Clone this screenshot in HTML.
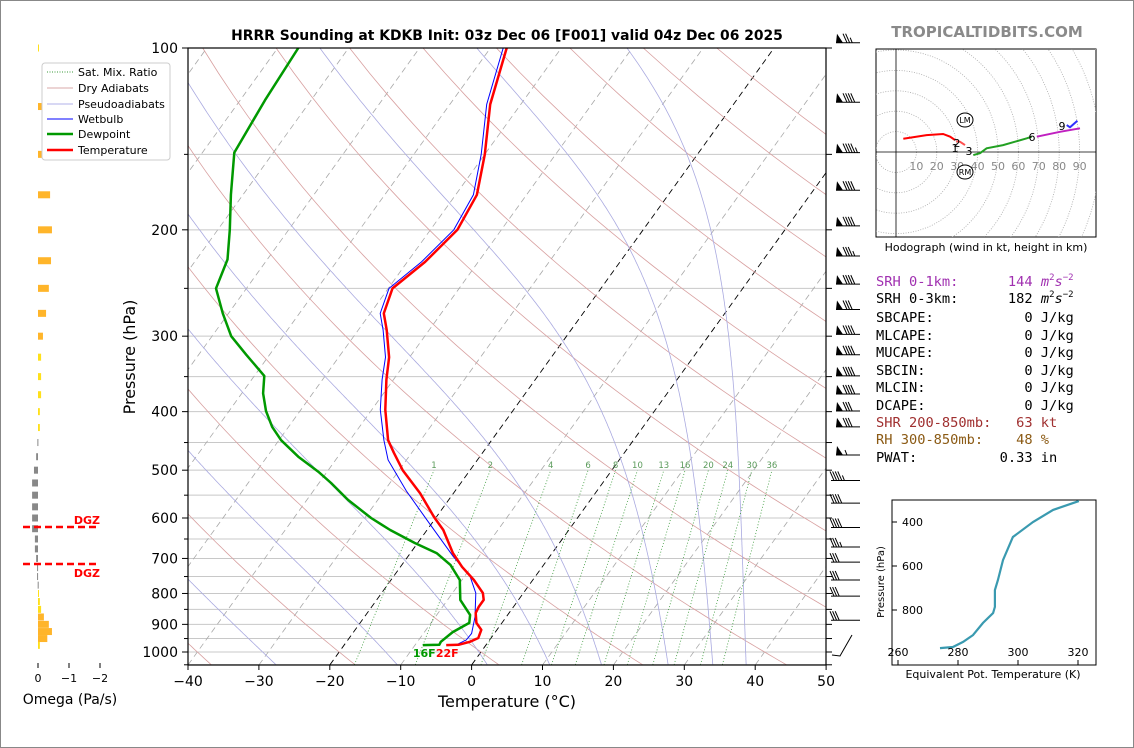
<!DOCTYPE html>
<html><head><meta charset="utf-8">
<style>
html,body{margin:0;padding:0;background:#fff;}
svg{display:block;font-family:"DejaVu Sans","Liberation Sans",sans-serif;}
.mono{font-family:"DejaVu Sans Mono","Liberation Mono",monospace;font-size:13.7px;white-space:pre;}
</style></head>
<body>
<svg id="fig" width="1134" height="748" viewBox="0 0 1134 748" xmlns="http://www.w3.org/2000/svg">
<rect x="0.5" y="0.5" width="1133" height="747" fill="#fff" stroke="#888"/>
<defs>
<clipPath id="mainclip"><rect x="188" y="48" width="638" height="617"/></clipPath>
<clipPath id="hodoclip"><rect x="876" y="49" width="220" height="188"/></clipPath>
</defs>
<text x="507" y="40" text-anchor="middle" font-size="13.9" font-weight="bold">HRRR Sounding at KDKB Init: 03z Dec 06 [F001] valid 04z Dec 06 2025</text>
<text x="987" y="37" text-anchor="middle" font-size="15" font-weight="bold" fill="#8a8a8a">TROPICALTIDBITS.COM</text>

<g id="bg" clip-path="url(#mainclip)"></g>
<g id="profiles" clip-path="url(#mainclip)"></g>
<g id="axes"></g>
<g id="barbs"></g>
<g id="omega"></g>
<g id="hodo"></g>
<g id="inset"></g>

<g>
<rect x="42" y="63" width="128" height="97" rx="3" fill="#fff" stroke="#ccc"/>
<line x1="47" y1="72" x2="73" y2="72" stroke="#3a9a3a" stroke-dasharray="1,1.5"/>
<text x="78" y="76" font-size="11">Sat. Mix. Ratio</text>
<line x1="47" y1="88" x2="73" y2="88" stroke="#d8a8a8"/>
<text x="78" y="92" font-size="11">Dry Adiabats</text>
<line x1="47" y1="104" x2="73" y2="104" stroke="#b0b0e8"/>
<text x="78" y="108" font-size="11">Pseudoadiabats</text>
<line x1="47" y1="119" x2="73" y2="119" stroke="#0000ff"/>
<text x="78" y="123" font-size="11">Wetbulb</text>
<line x1="47" y1="134" x2="73" y2="134" stroke="#009900" stroke-width="2.5"/>
<text x="78" y="138" font-size="11">Dewpoint</text>
<line x1="47" y1="150" x2="73" y2="150" stroke="#ff0000" stroke-width="2.5"/>
<text x="78" y="154" font-size="11">Temperature</text>
</g>

<g class="mono">
<text class="mono" x="876" y="286" fill="#a030b0">SRH 0-1km:      144 <tspan font-style="italic">m</tspan><tspan font-size="9" dy="-6">2</tspan><tspan font-style="italic" dy="6">s</tspan><tspan font-size="9" dy="-6">−2</tspan></text>
<text class="mono" x="876" y="303" fill="#000">SRH 0-3km:      182 <tspan font-style="italic">m</tspan><tspan font-size="9" dy="-6">2</tspan><tspan font-style="italic" dy="6">s</tspan><tspan font-size="9" dy="-6">−2</tspan></text>
<text class="mono" x="876" y="322">SBCAPE:           0 J/kg</text>
<text class="mono" x="876" y="340">MLCAPE:           0 J/kg</text>
<text class="mono" x="876" y="357">MUCAPE:           0 J/kg</text>
<text class="mono" x="876" y="375">SBCIN:            0 J/kg</text>
<text class="mono" x="876" y="392">MLCIN:            0 J/kg</text>
<text class="mono" x="876" y="410">DCAPE:            0 J/kg</text>
<text class="mono" x="876" y="427" fill="#a03030">SHR 200-850mb:   63 kt</text>
<text class="mono" x="876" y="444" fill="#8b5a14">RH 300-850mb:    48 %</text>
<text class="mono" x="876" y="462">PWAT:          0.33 in</text>
</g>
</svg>
<script>
// ---------- DATA ----------
const tempP  = [100,124,150,175,200,226,250,275,293,325,354,397,446,468,500,546,598,628,686,723,760,799,820,842,862,895,919,948,962,973,974];
const tempC  = [-57.7,-54.3,-50.0,-47.0,-46.2,-47.5,-49.4,-48.1,-46.0,-42.9,-41.0,-38.1,-34.6,-32.5,-29.5,-24.7,-20.3,-17.7,-14.0,-11.3,-8.3,-5.7,-4.9,-4.9,-4.7,-3.6,-2.2,-1.8,-2.6,-3.9,-5.6];
const dewP   = [100,122,149,175,200,224,250,275,300,322,349,373,399,424,446,475,504,525,560,600,628,660,686,718,760,820,868,895,927,962,973,974];
const dewC   = [-87.1,-86.5,-85.5,-81.7,-78.3,-75.6,-74.3,-70.8,-67.3,-63.3,-58.6,-57.0,-54.8,-52.3,-49.7,-45.6,-41.1,-38.3,-34.2,-29.1,-25.2,-20.4,-16.3,-13.1,-10.3,-8.2,-5.3,-4.6,-6.0,-6.7,-6.6,-8.9];
const wbP    = [100,124,150,175,200,226,250,275,293,325,354,397,446,481,541,613,695,750,799,875,932,955,973];
const wbC    = [-58.2,-54.8,-50.5,-47.5,-46.7,-48.0,-49.9,-48.6,-46.5,-43.4,-41.6,-38.8,-35.2,-32.6,-26.9,-20.3,-13.6,-9.2,-6.7,-4.4,-3.2,-3.3,-4.2];
const mixRatios = [1,2,4,6,8,10,13,16,20,24,30,36];
const moistStartC = [-27.6,-10.5,2.2,11,18.3,27.7,34,38.7];
const dryThetaC = [-40,-20,0,20,40,60,80,100,120,140,160,180,200];
const barbP   = [98,123,149,172,197,221,246,271,298,322,349,374,399,424,472,520,567,622,670,710,760,808,886];
const barbSpd = [75,90,95,90,90,85,90,80,90,90,90,90,80,80,55,45,40,40,35,30,30,30,30];
const omegaP  = [100,125,150,175,200,225,250,275,300,325,350,375,400,425,450,475,500,525,550,575,600,625,650,675,700,725,750,775,800,825,850,875,900,925,950,975,1000];
const omegaV  = [-0.03,-0.16,-0.29,-0.39,-0.45,-0.42,-0.35,-0.26,-0.16,-0.1,-0.1,-0.1,-0.06,-0.06,0.02,0.06,0.13,0.19,0.19,0.19,0.19,0.19,0.1,0.1,0.06,0.03,0.03,0.01,-0.03,-0.06,-0.1,-0.19,-0.35,-0.45,-0.3,-0.06,0];
const hodoU = [3.6,15.0,23.1,26.5,28.9];
const hodoV = [6.5,8.3,8.8,7.5,5.9];
const hodo2U = [29.5,31.4,33.8];
const hodo2V = [5.3,5.0,3.4];
const hodoGU = [37.9,41.2,44.4,52.5,64.1,66.5];
const hodoGV = [-1.5,-0.6,1.8,3.4,6.7,7.5];
const hodoMU = [69.0,80.4,90.2];
const hodoMV = [7.5,9.9,11.6];
const hodoBU = [83.7,85.3,88.9];
const hodoBV = [13.2,12.1,15.3];
const thetaEP = [305,345,400,468,573,664,709,786,814,859,914,945,968,973];
const thetaEK = [320.3,311.7,305,298.3,295,293.3,292.3,292.3,291.7,288.3,285,281.7,278.3,274];
const xTicks = [-40,-30,-20,-10,0,10,20,30,40,50];
const pLabels = [100,200,300,400,500,600,700,800,900,1000];

// ---------- HELPERS ----------
const NS="http://www.w3.org/2000/svg";
function mk(parent,tag,attrs,text){const e=document.createElementNS(NS,tag);for(const k in attrs)e.setAttribute(k,attrs[k]);if(text!==undefined)e.textContent=text;parent.appendChild(e);return e;}
const yP = p => 48 + 604*Math.log10(p/100);
const xT = (t,p) => 188 + (t+40)*7.09 + (665 - yP(p))*0.72;
const es = t => 6.112*Math.exp(17.67*t/(t+243.5));
function pathFrom(ps,ts){return ps.map((p,i)=>(i?'L':'M')+xT(ts[i],p).toFixed(1)+','+yP(p).toFixed(1)).join(' ');}

const bg=document.getElementById('bg');
for(let p=100;p<=1050;p+=50){
  const l=mk(bg,'line',{x1:188,x2:826,y1:yP(p),y2:yP(p),stroke:'#c8c8c8','stroke-width':1});
  
  
}
for(let t=-150;t<=50;t+=10){
  const blk=(t===0||t===-20);
  const l=mk(bg,'line',{x1:xT(t,1050),y1:yP(1050),x2:xT(t,100),y2:yP(100),stroke:blk?'#000':'#a8a8a8','stroke-width':blk?0.9:0.8,'stroke-dasharray':'6,4'});
  
  
}
dryThetaC.forEach(th=>{
  const ps=[],ts=[];
  for(let p=1050;p>=100;p-=10){ps.push(p);ts.push((th+273.15)*Math.pow(p/1000,0.2857)-273.15);}
  const l=mk(bg,'path',{d:pathFrom(ps,ts),fill:'none',stroke:'#d8a0a0','stroke-width':0.8});
  
  
});
moistStartC.forEach(t0=>{
  const ps=[],ts=[];let T=t0+273.15;
  for(let p=1050;p>=100;p-=2){
    ps.push(p);ts.push(T-273.15);
    const e=es(T-273.15);const rs=0.622*e/(p-e);
    const b=(287.04*T+2.501e6*rs)/(1005.7+(2.501e6*2.501e6*rs*0.622)/(287.04*T*T));
    T += b/p*(-2);
  }
  const l=mk(bg,'path',{d:pathFrom(ps,ts),fill:'none',stroke:'#aaaae0','stroke-width':0.8});
  
  
});
const tdFromW=(w,p)=>{const e=w*p/(622+w);const L=Math.log(e/6.112);return 243.5*L/(17.67-L);};
mixRatios.forEach(w=>{
  const ps=[1050,500],ts=ps.map(p=>tdFromW(w,p));
  const l=mk(bg,'path',{d:pathFrom(ps,ts),fill:'none',stroke:'#3a9a3a','stroke-width':0.8,'stroke-dasharray':'1,2'});
  
  
  const t=mk(bg,'text',{x:xT(ts[1],500),y:yP(500)-2,'text-anchor':'middle','font-size':8.5,fill:'#5a9a5a'},String(w));
  
  
});

const prof=document.getElementById('profiles');
let e1=mk(prof,'path',{d:pathFrom(wbP,wbC),fill:'none',stroke:'#0000ff','stroke-width':1});


let e2=mk(prof,'path',{d:pathFrom(dewP,dewC),fill:'none',stroke:'#009900','stroke-width':2.5,'stroke-linejoin':'round'});


let e3=mk(prof,'path',{d:pathFrom(tempP,tempC),fill:'none',stroke:'#ff0000','stroke-width':2.5,'stroke-linejoin':'round'});


let sl=mk(prof,'text',{x:xT(dewC[dewC.length-1],974)-10,y:yP(974)+12,'font-size':11,'font-weight':'bold',fill:'#009900'},'16F');


let sl2=mk(prof,'text',{x:xT(dewC[dewC.length-1],974)+13,y:yP(974)+12,'font-size':11,'font-weight':'bold',fill:'#ff0000'},'22F');



const ax=document.getElementById('axes');
let fr=mk(ax,'rect',{x:188,y:48,width:638,height:617,fill:'none',stroke:'#000','stroke-width':1.2});


for(let p=100;p<=1050;p+=50){
  const lab=pLabels.includes(p);
  const t=mk(ax,'line',{x1:188-(lab?6:4),x2:188,y1:yP(p),y2:yP(p),stroke:'#000'});
  
  
  const t2=mk(ax,'line',{x1:826,x2:832,y1:yP(p),y2:yP(p),stroke:'#000'});
  
  
}
pLabels.forEach(p=>{
  const t=mk(ax,'text',{x:178,y:yP(p)+5,'text-anchor':'end','font-size':14},String(p));
  
  
});
xTicks.forEach(v=>{
  const x=188+(v+40)*7.09;
  const t=mk(ax,'line',{x1:x,x2:x,y1:665,y2:670,stroke:'#000'});
  
  
  const l=mk(ax,'text',{x:x,y:686,'text-anchor':'middle','font-size':14},(v<0?'−':'')+Math.abs(v));
  
  
});
let xt=mk(ax,'text',{x:507,y:707,'text-anchor':'middle','font-size':16},'Temperature (°C)');


let yt=mk(ax,'text',{x:135,y:357,'text-anchor':'middle','font-size':16,transform:'rotate(-90 135 357)'},'Pressure (hPa)');



const bb=document.getElementById('barbs');
barbP.forEach((p,i)=>{
  const y=yP(p);let s=barbSpd[i];
  const g=mk(bb,'g',{});
  
  
  let x=s>=50?836:831;
  mk(g,'line',{x1:x,y1:y,x2:860,y2:y,stroke:'#000','stroke-width':1});
  while(s>=50){mk(g,'polygon',{points:`${x},${y} ${x+7},${y} ${x+1},${y-9}`,fill:'#000'});x+=8;s-=50;}
  while(s>=10){mk(g,'line',{x1:x+3,y1:y,x2:x-1,y2:y-9,stroke:'#000','stroke-width':1});x+=2.6;s-=10;}
  if(s>=5){mk(g,'line',{x1:x+3,y1:y,x2:x+1,y2:y-5,stroke:'#000','stroke-width':1});}
});
let sb=mk(bb,'path',{d:'M832,655 L840,656 L852,635',fill:'none',stroke:'#000','stroke-width':1});



const om=document.getElementById('omega');
const ox=v=>38 - v*31;
omegaP.forEach((p,i)=>{
  const v=omegaV[i];if(v===0)return;
  const y=yP(p);
  const x0=Math.min(ox(0),ox(v)),w=Math.abs(ox(v)-ox(0));
  const col=v>0?'#888888':(v<=-0.13?'#ffb52a':'#ffe01a');
  const r=mk(om,'rect',{x:x0,y:y-3.5,width:Math.max(w,1),height:7,fill:col});
  
  
});
[0,-1,-2].forEach(v=>{
  const t=mk(om,'line',{x1:ox(v),x2:ox(v),y1:663,y2:668,stroke:'#000'});
  
  
  const l=mk(om,'text',{x:ox(v),y:682,'text-anchor':'middle','font-size':11},v===0?'0':'−'+Math.abs(v));
  
  
});
let ot=mk(om,'text',{x:70,y:704,'text-anchor':'middle','font-size':14},'Omega (Pa/s)');


[527,564].forEach((y,i)=>{
  const l=mk(om,'line',{x1:23,x2:98,y1:y,y2:y,stroke:'#ff0000','stroke-width':2.5,'stroke-dasharray':'7,4'});
  
  
  const t=mk(om,'text',{x:100,y:i===0?y-3:y+13,'text-anchor':'end','font-size':11,'font-weight':'bold',fill:'#ff0000'},'DGZ');
  
  
});

const hd=document.getElementById('hodo');
const hx=u=>896+u*2.04, hy=v=>152-v*2.04;
let hb=mk(hd,'rect',{x:876,y:49,width:220,height:188,fill:'#fff',stroke:'#000','stroke-width':1});


const hc=mk(hd,'g',{'clip-path':'url(#hodoclip)'});
for(let r=10;r<=150;r+=10){
  const c=mk(hc,'circle',{cx:896,cy:152,r:r*2.04,fill:'none',stroke:'#aaa','stroke-width':0.8,'stroke-dasharray':'1,1.5'});
  
  
}
mk(hc,'line',{x1:876,x2:1096,y1:152,y2:152,stroke:'#000','stroke-width':0.8});
mk(hc,'line',{x1:896,x2:896,y1:49,y2:237,stroke:'#000','stroke-width':0.8});
for(let k=10;k<=90;k+=10){
  const t=mk(hd,'text',{x:hx(k),y:170,'text-anchor':'middle','font-size':11,fill:'#888'},String(k));
  
  
}
const hpath=(us,vs)=>us.map((u,i)=>(i?'L':'M')+hx(u).toFixed(1)+','+hy(vs[i]).toFixed(1)).join(' ');
[[hodoU,hodoV,'#ff0000','hodo-segment-0-1km'],[hodo2U,hodo2V,'#ff5050','hodo-segment-2-3km'],[hodoGU,hodoGV,'#22a022','hodo-segment-3-6km'],[hodoMU,hodoMV,'#c020c0','hodo-segment-6-9km'],[hodoBU,hodoBV,'#3030ff','hodo-segment-9km-up']].forEach(s=>{
  const l=mk(hc,'path',{d:hpath(s[0],s[1]),fill:'none',stroke:s[2],'stroke-width':2});
  
  
});
[['1',955,152],['2',957,147],['3',969,155],['6',1032,141],['9',1062,130]].forEach(a=>{
  const t=mk(hd,'text',{x:a[1],y:a[2],'text-anchor':'middle','font-size':11},a[0]);
  
  
});
[['LM',965,120],['RM',965,172]].forEach(a=>{
  const c=mk(hd,'ellipse',{cx:a[1],cy:a[2],rx:8,ry:7,fill:'#fff',stroke:'#000','stroke-width':1});
  
  
  mk(hd,'text',{x:a[1],y:a[2]+3,'text-anchor':'middle','font-size':8},a[0]);
});
let ht=mk(hd,'text',{x:986,y:251,'text-anchor':'middle','font-size':11},'Hodograph (wind in kt, height in km)');



const ins=document.getElementById('inset');
const ix=k=>898+(k-260)*3, iy=p=>522+(p-400)*0.22;
let ib=mk(ins,'rect',{x:892,y:500,width:204,height:165,fill:'#fff',stroke:'#000','stroke-width':1});


let ip=mk(ins,'path',{d:thetaEP.map((p,i)=>(i?'L':'M')+ix(thetaEK[i]).toFixed(1)+','+iy(p).toFixed(1)).join(' '),fill:'none',stroke:'#3a9ab0','stroke-width':2.2});


[400,600,800].forEach(p=>{
  mk(ins,'line',{x1:892,x2:897,y1:iy(p),y2:iy(p),stroke:'#000'});
  const t=mk(ins,'text',{x:902,y:iy(p)+4,'font-size':11},String(p));
  
  
});
[260,280,300,320].forEach(k=>{
  mk(ins,'line',{x1:ix(k),x2:ix(k),y1:660,y2:665,stroke:'#000'});
  const t=mk(ins,'text',{x:ix(k),y:656,'text-anchor':'middle','font-size':11},String(k));
  
  
});
let ixl=mk(ins,'text',{x:993,y:678,'text-anchor':'middle','font-size':11},'Equivalent Pot. Temperature (K)');


let iyl=mk(ins,'text',{x:884,y:582,'text-anchor':'middle','font-size':10,transform:'rotate(-90 884 582)'},'Pressure (hPa)');


</script>
</body></html>
